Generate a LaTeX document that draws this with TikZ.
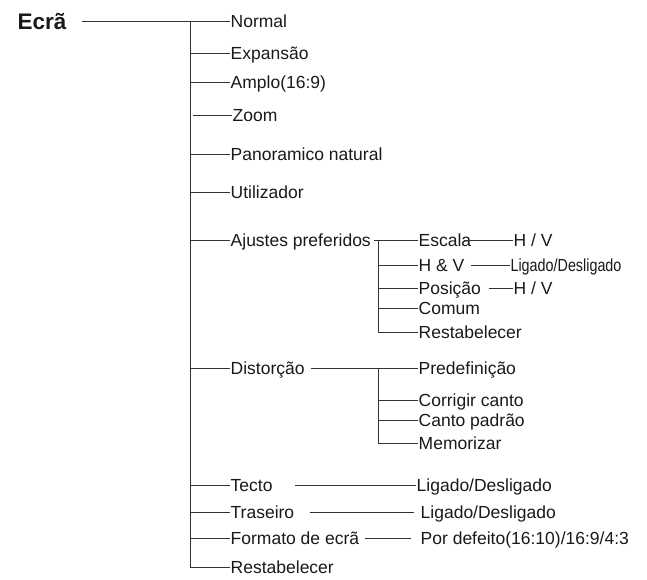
\documentclass[tikz,border=0pt]{standalone}
\usepackage{fontspec}
\setmainfont{Liberation Sans}
\begin{document}
\begin{tikzpicture}[x=1pt,y=-1pt,
  lbl/.style={anchor=west,inner sep=0.5pt,text height=12.6pt,text depth=0pt,
    font=\fontsize{17.5}{20}\selectfont,text=black!90},
  small/.style={lbl,xscale=0.82},
  title/.style={anchor=west,inner sep=0.5pt,text height=16.5pt,text depth=0pt,
    font=\fontsize{22.5}{26}\selectfont\bfseries,text=black!90},
  ln/.style={draw=black!80,line width=0.95pt}]
\useasboundingbox (0,0) rectangle (647,580);
% root
\node[title] (ecra) at (17,21) {Ecrã};
% main items
\node[lbl] (normal) at (230,21) {Normal};
\node[lbl] (expansao) at (230,53) {Expansão};
\node[lbl] (amplo) at (230,82) {Amplo(16:9)};
\node[lbl] (zoom) at (232,115) {Zoom};
\node[lbl] (pano) at (230,154) {Panoramico natural};
\node[lbl] (util) at (230,192) {Utilizador};
\node[lbl] (ajustes) at (230,240) {Ajustes preferidos};
\node[lbl] (dist) at (230,368) {Distorção};
\node[lbl] (tecto) at (230,485) {Tecto};
\node[lbl] (traseiro) at (230,512) {Traseiro};
\node[lbl] (formato) at (230,538) {Formato de ecrã};
\node[lbl] (restab) at (230,567) {Restabelecer};
% main trunk
\coordinate (t0) at (190,21);
\coordinate (t1) at (190,567);
\draw[ln] ([xshift=15pt]ecra.east) -- (normal.west);
\draw[ln] (t0) -- (t1) -- (restab.west);
\foreach \n in {expansao,amplo,pano,util,ajustes,dist,tecto,traseiro,formato}
  \draw[ln] (\n.west -| t0) -- (\n.west);
\draw[ln] ([xshift=-39pt]zoom.west) -- (zoom.west);
% Ajustes preferidos
\node[lbl] (escala) at (418,240) {Escala};
\node[lbl] (hv) at (418,265) {H \& V};
\node[lbl] (posicao) at (418,288) {Posição};
\node[lbl] (comum) at (418,308) {Comum};
\node[lbl] (restabb) at (418,332) {Restabelecer};
\coordinate (a0) at (378,240);
\coordinate (a1) at (378,332);
\draw[ln] ([xshift=3pt]ajustes.east) -- (escala.west);
\draw[ln] (a0) -- (a1) -- (restabb.west);
\foreach \n in {hv,posicao,comum}
  \draw[ln] (\n.west -| a0) -- (\n.west);
\node[lbl] (escv) at (513,240) {H / V};
\node[small] (hvl) at (510,265) {Ligado/Desligado};
\node[lbl] (posv) at (513,288) {H / V};
\draw[ln] ([xshift=-8pt]escala.east) -- (escv.west);
\draw[ln] ([xshift=6pt]hv.east) -- (hvl.west);
\draw[ln] ([xshift=7pt]posicao.east) -- (posv.west);
% Distorcao
\node[lbl] (predef) at (418,368) {Predefinição};
\node[lbl] (corr) at (418,400) {Corrigir canto};
\node[lbl] (canto) at (418,420) {Canto padrão};
\node[lbl] (memo) at (418,443) {Memorizar};
\coordinate (d0) at (378,368);
\coordinate (d1) at (378,443);
\draw[ln] ([xshift=6pt]dist.east) -- (predef.west);
\draw[ln] (d0) -- (d1) -- (memo.west);
\foreach \n in {corr,canto}
  \draw[ln] (\n.west -| d0) -- (\n.west);
% Tecto, Traseiro, Formato
\node[lbl] (tectol) at (416,485) {Ligado/Desligado};
\node[lbl] (trasl) at (420,512) {Ligado/Desligado};
\node[lbl] (forml) at (420,538) {Por defeito(16:10)/16:9/4:3};
\draw[ln] ([xshift=22pt]tecto.east) -- (tectol.west);
\draw[ln] ([xshift=15pt]traseiro.east) -- ([xshift=-6pt]trasl.west);
\draw[ln] ([xshift=5pt]formato.east) -- ([xshift=-9pt]forml.west);
\end{tikzpicture}
\end{document}
